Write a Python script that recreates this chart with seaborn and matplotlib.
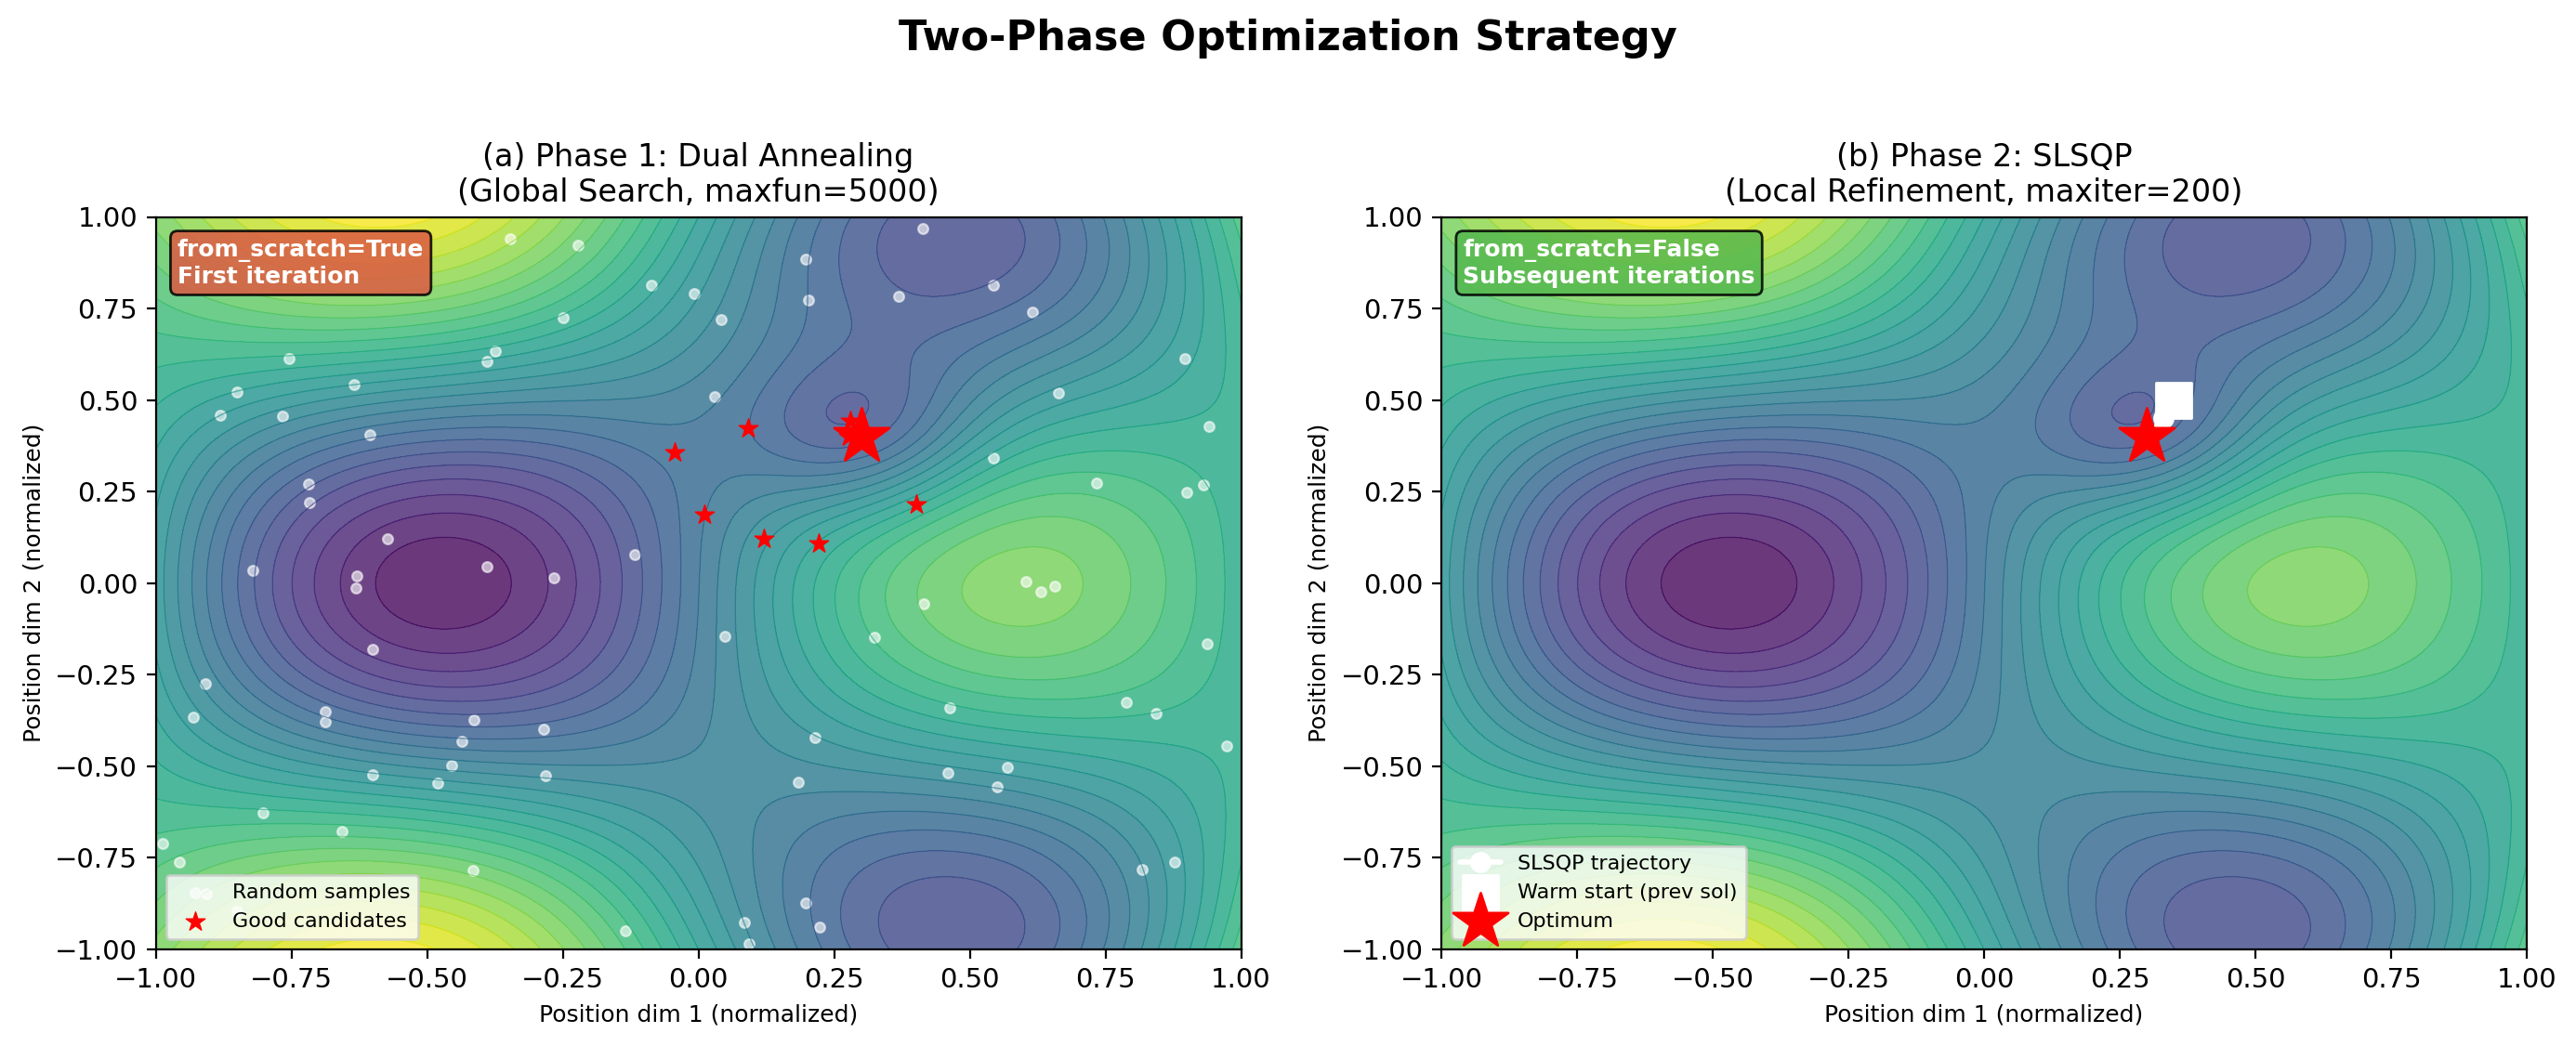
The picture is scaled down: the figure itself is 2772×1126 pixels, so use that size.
import numpy as np
import matplotlib
matplotlib.use("Agg")
import matplotlib.pyplot as plt
import seaborn as sns

sns.set_style("white")
plt.rcParams['font.family'] = ['DejaVu Sans']
plt.rcParams.update({'text.color':'k','axes.labelcolor':'k','xtick.color':'k','ytick.color':'k','axes.titlecolor':'k'})

sample_x = [-.347,-.222,-.087,-.008,-.249,-.375,-.390,-.755,-.851,-.635,-.882,-.767,-.606,-.719,-.717,-.573,-.390,-.117,-.822,-.629,-.267,-.632,-.600,-.908,-.930,-.687,-.687,-.414,-.285,-.436,-.455,-.481,-.601,-.282,-.803,-.657,-.988,-.957,-.416,-.134,-.850,-.906,.414,.197,.202,.041,.368,.544,.616,.029,.897,.664,.940,.543,.733,.931,.900,.049,.325,.415,.604,.631,.657,.938,.463,.789,.844,.974,.215,.184,.459,.570,.551,.818,.878,.198,.085,.223,.093]
sample_y = [.941,.923,.814,.791,.726,.633,.606,.614,.523,.541,.459,.457,.406,.272,.219,.122,.046,.079,.036,.020,.014,-.013,-.181,-.275,-.366,-.351,-.379,-.373,-.399,-.432,-.498,-.546,-.523,-.526,-.627,-.678,-.711,-.761,-.784,-.949,-.896,-.848,.969,.885,.773,.720,.784,.814,.741,.510,.614,.520,.427,.343,.274,.267,.247,-.145,-.148,-.057,.004,-.024,-.008,-.166,-.340,-.325,-.356,-.444,-.422,-.543,-.518,-.503,-.556,-.781,-.761,-.873,-.926,-.939,-.986]
good_x = [.092,.402,.121,.222,.0105,-.044,.28,.276]
good_y = [.422,.215,.121,.109,.187,.356,.442,.40]
traj_x = [.35,.331,.30]
traj_y = [.50,.451,.40]

x = np.linspace(-1,1,200); y = np.linspace(-1,1,200)
X,Y = np.meshgrid(x,y)
Z = np.sin(3*X)*np.cos(3*Y) + 0.5*(X**2+Y**2) - 0.65*np.exp(-((X-.3)**2+(Y-.4)**2)/0.05)
cmap = sns.color_palette("viridis", as_cmap=True)
DPI=200
fig = plt.figure(figsize=(2772/DPI,1126/DPI),dpi=DPI)
W,H=2772,1126
ax1 = fig.add_axes([167.6/W,1-1022/H,1168/W,788.5/H])
ax2 = fig.add_axes([1551/W,1-1022/H,1168/W,788.5/H])
TICK=10.5;LAB=9;TTL=12
for ax in (ax1,ax2):
    ax.contourf(X,Y,Z,levels=30,cmap=cmap,alpha=.8)
    ax.contour(X,Y,Z,levels=30,cmap=cmap,linewidths=.5,alpha=.6)
    ax.set_xlim(-1,1);ax.set_ylim(-1,1)
    ax.tick_params(labelsize=TICK,left=True,bottom=True,length=3.5,width=.8)
    for s in ax.spines.values(): s.set_color('k');s.set_linewidth(.8)
    ax.set_xlabel("Position dim 1 (normalized)",fontsize=LAB)
    ax.set_ylabel("Position dim 2 (normalized)",fontsize=LAB)
    ax.set_xticks(np.arange(-1,1.01,.25));ax.set_yticks(np.arange(-1,1.01,.25))
sns.scatterplot(x=sample_x,y=sample_y,ax=ax1,color='white',s=15,alpha=.6,label='Random samples',edgecolor='white',linewidth=.8)
sns.scatterplot(x=good_x,y=good_y,ax=ax1,color='red',marker='*',s=60,label='Good candidates',edgecolor='red',linewidth=.5,zorder=4)
ax1.scatter([.3],[.4],c='red',marker='*',s=500,zorder=5)
ax2.plot(traj_x,traj_y,'o-',color='white',ms=7.2,lw=2,label='SLSQP trajectory')
ax2.scatter(traj_x[:1],traj_y[:1],c='white',marker='s',s=180,label='Warm start (prev sol)',zorder=4)
ax2.scatter(traj_x[-1:],traj_y[-1:],c='red',marker='*',s=500,label='Optimum',zorder=5)
ax1.set_title("(a) Phase 1: Dual Annealing\n(Global Search, maxfun=5000)",fontsize=TTL)
ax2.set_title("(b) Phase 2: SLSQP\n(Local Refinement, maxiter=200)",fontsize=TTL)
for ax,t,c in ((ax1,"from_scratch=True\nFirst iteration",'#DB5A44'),(ax2,"from_scratch=False\nSubsequent iterations",'#55B84F')):
    ax.text(.02,.97,t,transform=ax.transAxes,va='top',ha='left',fontsize=9,color='white',fontweight='bold',
            bbox=dict(boxstyle='round',facecolor=c,edgecolor='k',alpha=.85,linewidth=1))
    ax.legend(loc='lower left',fontsize=8,framealpha=.8)
fig.suptitle("Two-Phase Optimization Strategy",fontsize=16,fontweight='bold',y=.982)
fig.savefig("out.png",dpi=DPI)
# grid dump to picture not yet needed
